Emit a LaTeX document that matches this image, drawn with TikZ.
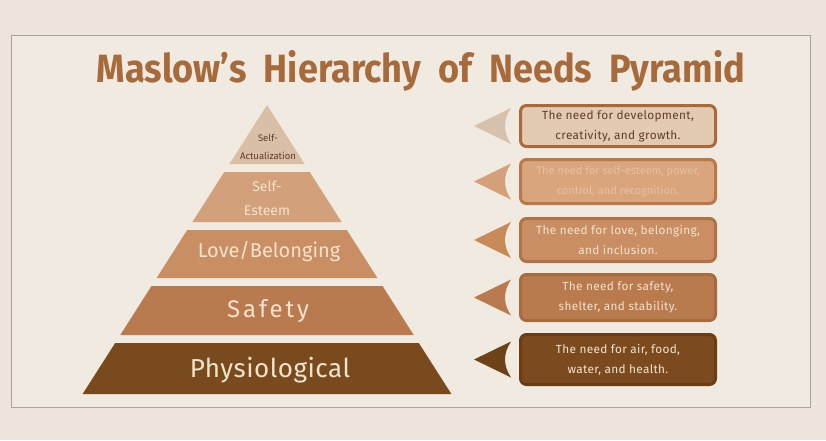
\documentclass[tikz,border=0pt]{standalone}
\usepackage{fontspec}
\setmainfont{Fira Sans}
\newfontfamily\titlefont{Fira Sans}
\usetikzlibrary{calc}
\definecolor{bgc}{HTML}{EDE5DB}
\definecolor{panelc}{HTML}{F1EAE0}
\definecolor{panelline}{HTML}{A9A39A}
\definecolor{titlec}{HTML}{A66A3C}
\definecolor{lvA}{HTML}{D9BFA6}
\definecolor{lvB}{HTML}{D2A17B}
\definecolor{lvC}{HTML}{C98E63}
\definecolor{lvD}{HTML}{B87A4E}
\definecolor{lvE}{HTML}{7A4A1F}
\definecolor{bxA}{HTML}{E3CBB2}
\definecolor{bxAl}{HTML}{A8693B}
\definecolor{bxB}{HTML}{D9A57D}
\definecolor{bxBl}{HTML}{B97849}
\definecolor{bxC}{HTML}{C98E63}
\definecolor{bxCl}{HTML}{AE7347}
\definecolor{bxD}{HTML}{B97A4E}
\definecolor{bxDl}{HTML}{A66B41}
\definecolor{bxE}{HTML}{7B4A1F}
\definecolor{bxEl}{HTML}{6A3D16}
\definecolor{arA}{HTML}{D6C2AC}
\definecolor{arB}{HTML}{D4A07A}
\definecolor{arC}{HTML}{C98A5A}
\definecolor{arD}{HTML}{B87A4E}
\definecolor{arE}{HTML}{6E4218}
\definecolor{darktxt}{HTML}{5E3E24}
\definecolor{lighttxt}{HTML}{F4E3CC}
\definecolor{fainttxt}{HTML}{E8C19F}
\begin{document}
\begin{tikzpicture}[x=1pt,y=-1pt,
  infobox/.style={draw, line width=3pt, rounded corners=6pt, minimum width=195pt,
    align=center, inner sep=0pt, font=\fontsize{11.8}{20}\selectfont\addfontfeature{LetterSpace=3}},
  lvlabel/.style={align=center, inner sep=0pt},
]
\useasboundingbox (0,0) rectangle (826,440);
\fill[bgc] (0,0) rectangle (826,440);
\draw[panelline, fill=panelc, line width=0.8pt] (11,35) rectangle (810,407);

% title
\node[anchor=base, inner sep=0pt, text=titlec] (title) at (421,82)
  {\resizebox{648pt}{32pt}{\titlefont\bfseries Maslow’s\ \ Hierarchy\ \ of\ \ Needs\ \ Pyramid}};

% pyramid levels
\fill[lvA] (267,105) -- (304.6,164) -- (229.4,164) -- cycle;
\fill[lvB] (224.3,172) -- (309.7,172) -- (341.6,222) -- (192.4,222) -- cycle;
\fill[lvC] (187.2,230) -- (346.8,230) -- (377.4,278) -- (156.6,278) -- cycle;
\fill[lvD] (151.5,286) -- (382.5,286) -- (413.7,335) -- (120.3,335) -- cycle;
\fill[lvE] (115.2,343) -- (418.8,343) -- (451.4,394) -- (82.6,394) -- cycle;

\node[lvlabel, text=darktxt, font=\fontsize{9.5}{18}\selectfont] (l1) at (268,147) {Self-\\Actualization};
\node[lvlabel, text=lighttxt, font=\fontsize{14}{24}\selectfont] (l2) at (267,198) {Self-\\Esteem};
\node[lvlabel, text=lighttxt, font=\fontsize{20}{24}\selectfont] (l3) at (269,252) {Love/Belonging};
\node[lvlabel, text=lighttxt, font=\fontsize{24}{28}\selectfont\addfontfeature{LetterSpace=12}] (l4) at (268,311) {Safety};
\node[lvlabel, text=lighttxt, font=\fontsize{26}{28}\selectfont\addfontfeature{LetterSpace=2}] (l5) at (270,370) {Physiological};

% description boxes
\node[infobox, fill=bxA, draw=bxAl, text=darktxt, minimum height=41pt] (b1) at (618,126)
  {The need for development,\\creativity, and growth.};
\node[infobox, fill=bxB, draw=bxBl, text=fainttxt, minimum height=44pt,
  font=\fontsize{11}{20}\selectfont] (b2) at (618,181.5)
  {The need for self-esteem, power,\\control, and recognition.};
\node[infobox, fill=bxC, draw=bxCl, text=lighttxt, minimum height=43pt] (b3) at (618,240)
  {The need for love, belonging,\\and inclusion.};
\node[infobox, fill=bxD, draw=bxDl, text=lighttxt, minimum height=46pt] (b4) at (618,297.5)
  {The need for safety,\\shelter, and stability.};
\node[infobox, fill=bxE, draw=bxEl, text=lighttxt, minimum height=50pt] (b5) at (618,359.5)
  {The need for air, food,\\water, and health.};

% pointer arrows
\foreach \b/\c in {b1/arA, b2/arB, b3/arC, b4/arD, b5/arE}{
  \fill[\c] ($(\b.west)+(-45,0)$) -- ($(\b.west)+(-8,-18)$)
    .. controls ($(\b.west)+(-16,-6)$) and ($(\b.west)+(-16,6)$) .. ($(\b.west)+(-8,18)$) -- cycle;
}
\end{tikzpicture}
\end{document}
